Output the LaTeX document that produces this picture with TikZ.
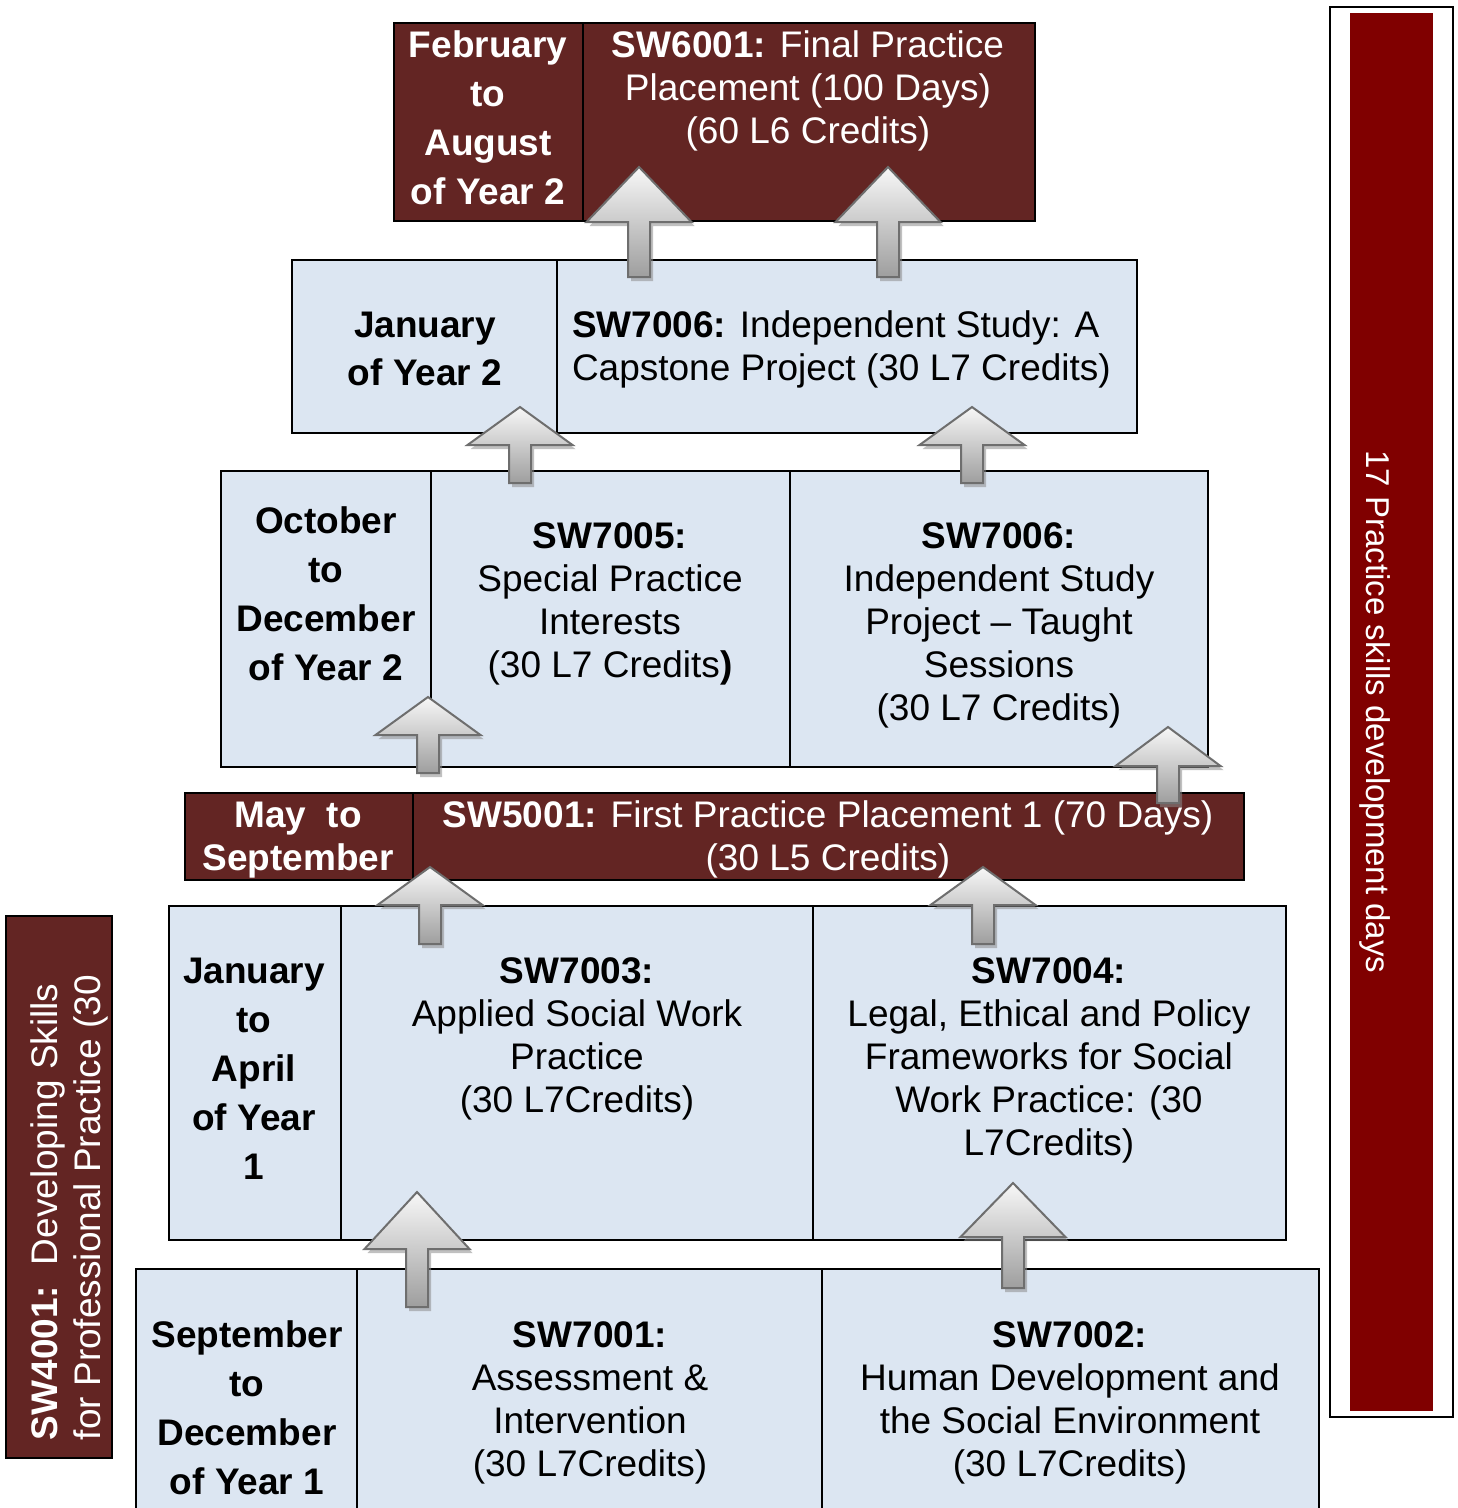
\documentclass[tikz,border=0pt]{standalone}
\usepackage{fontspec}
\setmainfont{Liberation Sans}
\definecolor{darkred}{HTML}{632523}
\definecolor{lightblue}{HTML}{DCE6F2}
\definecolor{barred}{HTML}{800000}
\definecolor{arwline}{HTML}{6E6E6E}
\tikzset{
 cell/.style={draw=black, line width=2pt, inner sep=0pt, outer sep=0pt, anchor=north west},
 redcell/.style={cell, fill=darkred},
 bluecell/.style={cell, fill=lightblue},
 txt/.style={inner sep=0pt, outer sep=0pt, align=center, anchor=base, font=\fontsize{37}{43}\selectfont},
 btxt/.style={txt, font=\fontsize{37}{49}\selectfont\bfseries},
 arw/.style={draw=arwline, line width=2pt, line join=miter, top color=white!97!black, bottom color=black!38},
 arwshadow/.style={fill=black!45, opacity=0.55},
}
\newcommand\UpArw[3]{%
 \begin{scope}[shift={(#1)}]
  \fill[arwshadow] (3,4) -- (55.5,#2+4) -- (14,#2+4) -- (14,#3+4) -- (-8,#3+4) -- (-8,#2+4) -- (-49.5,#2+4) -- cycle;
  \path[arw] (0,0) -- (52.5,#2) -- (11,#2) -- (11,#3) -- (-11,#3) -- (-11,#2) -- (-52.5,#2) -- cycle;
 \end{scope}}
\begin{document}
\begin{tikzpicture}[x=1pt,y=-1pt]
\useasboundingbox (0,0) rectangle (1458,1508);
% right bar
\node[cell, line width=2.5pt, fill=white, minimum width=123pt, minimum height=1410pt] (barout) at (1330,7) {};
\node[inner sep=0pt, outer sep=0pt, anchor=north west, fill=barred, minimum width=83pt, minimum height=1398pt] (barin) at (1350,13) {};
\node[txt, anchor=center, rotate=-90, text=white, font=\fontsize{33}{38}\selectfont] (bartxt) at (1375,712) {17 Practice skills development days};
% left box
\node[redcell, minimum width=106pt, minimum height=542pt] (sw4001) at (6,916) {};
\node[txt, rotate=90, anchor=base west, align=left, text=white] (sw4001t) at (100,1440) {\textbf{SW4001:}\ \ Developing Skills\\for Professional Practice (30};
% row 1
\node[redcell, minimum width=189pt, minimum height=198pt] (r1a) at (394,23) {};
\node[redcell, minimum width=452pt, minimum height=198pt] (r1b) at (583,23) {};
\node[btxt, text=white] (r1at) at (488,204) {February\\to\\August\\of Year 2};
\node[txt, text=white] (r1bt) at (808,143) {\textbf{SW6001:} Final Practice\\Placement (100 Days)\\(60 L6 Credits)};
% row 2
\node[bluecell, minimum width=265pt, minimum height=173pt] (r2a) at (292,260) {};
\node[bluecell, minimum width=580pt, minimum height=173pt] (r2b) at (557,260) {};
\node[btxt, font=\fontsize{37}{48}\selectfont\bfseries] (r2at) at (425,385) {January\\of Year 2};
\node[txt, anchor=base west, align=left] (r2bt) at (572,380) {\textbf{SW7006:} Independent Study: A\\Capstone Project (30 L7 Credits)};
% row 3
\node[bluecell, minimum width=210pt, minimum height=296pt] (r3a) at (221,471) {};
\node[bluecell, minimum width=359pt, minimum height=296pt] (r3b) at (431,471) {};
\node[bluecell, minimum width=418pt, minimum height=296pt] (r3c) at (790,471) {};
\node[btxt] (r3at) at (326,680) {October\\to\\December\\of Year 2};
\node[txt] (r3bt) at (610,677) {\textbf{SW7005:}\\Special Practice\\Interests\\(30 L7 Credits\textbf{)}};
\node[txt] (r3ct) at (999,720) {\textbf{SW7006:}\\Independent Study\\Project -- Taught\\Sessions\\(30 L7 Credits)};
% row 4
\node[redcell, minimum width=228pt, minimum height=87pt] (r4a) at (185,793) {};
\node[redcell, minimum width=831pt, minimum height=87pt] (r4b) at (413,793) {};
\node[txt, text=white, font=\fontsize{37}{43}\selectfont\bfseries] (r4at) at (298,870) {May\ \ to\\September};
\node[txt, text=white] (r4bt) at (828,870) {\textbf{SW5001:} First Practice Placement 1 (70 Days)\\(30 L5 Credits)};
% row 5
\node[bluecell, minimum width=172pt, minimum height=334pt] (r5a) at (169,906) {};
\node[bluecell, minimum width=472pt, minimum height=334pt] (r5b) at (341,906) {};
\node[bluecell, minimum width=473pt, minimum height=334pt] (r5c) at (813,906) {};
\node[btxt] (r5at) at (254,1179) {January\\to\\April\\of Year\\1};
\node[txt] (r5bt) at (577,1112) {\textbf{SW7003:}\\Applied Social Work\\Practice\\(30 L7Credits)};
\node[txt] (r5ct) at (1049,1155) {\textbf{SW7004:}\\Legal, Ethical and Policy\\Frameworks for Social\\Work Practice: (30\\L7Credits)};
% row 6
\node[bluecell, minimum width=221pt, minimum height=251pt] (r6a) at (136,1269) {};
\node[bluecell, minimum width=465pt, minimum height=251pt] (r6b) at (357,1269) {};
\node[bluecell, minimum width=497pt, minimum height=251pt] (r6c) at (822,1269) {};
\node[btxt] (r6at) at (247,1494) {September\\to\\December\\of Year 1};
\node[txt] (r6bt) at (590,1476) {\textbf{SW7001:}\\Assessment \&\\Intervention\\(30 L7Credits)};
\node[txt] (r6ct) at (1070,1476) {\textbf{SW7002:}\\Human Development and\\the Social Environment\\(30 L7Credits)};
% arrows
\UpArw{639,167}{55}{110}
\UpArw{888,167}{55}{110}
\UpArw{520,407}{38}{76}
\UpArw{972,407}{38}{76}
\UpArw{428,697}{38}{76}
\UpArw{1168,727}{39}{76}
\UpArw{430,867}{38}{77}
\UpArw{983,867}{38}{77}
\UpArw{417,1192}{57}{115}
\UpArw{1013,1183}{54}{105}
\end{tikzpicture}
\end{document}
